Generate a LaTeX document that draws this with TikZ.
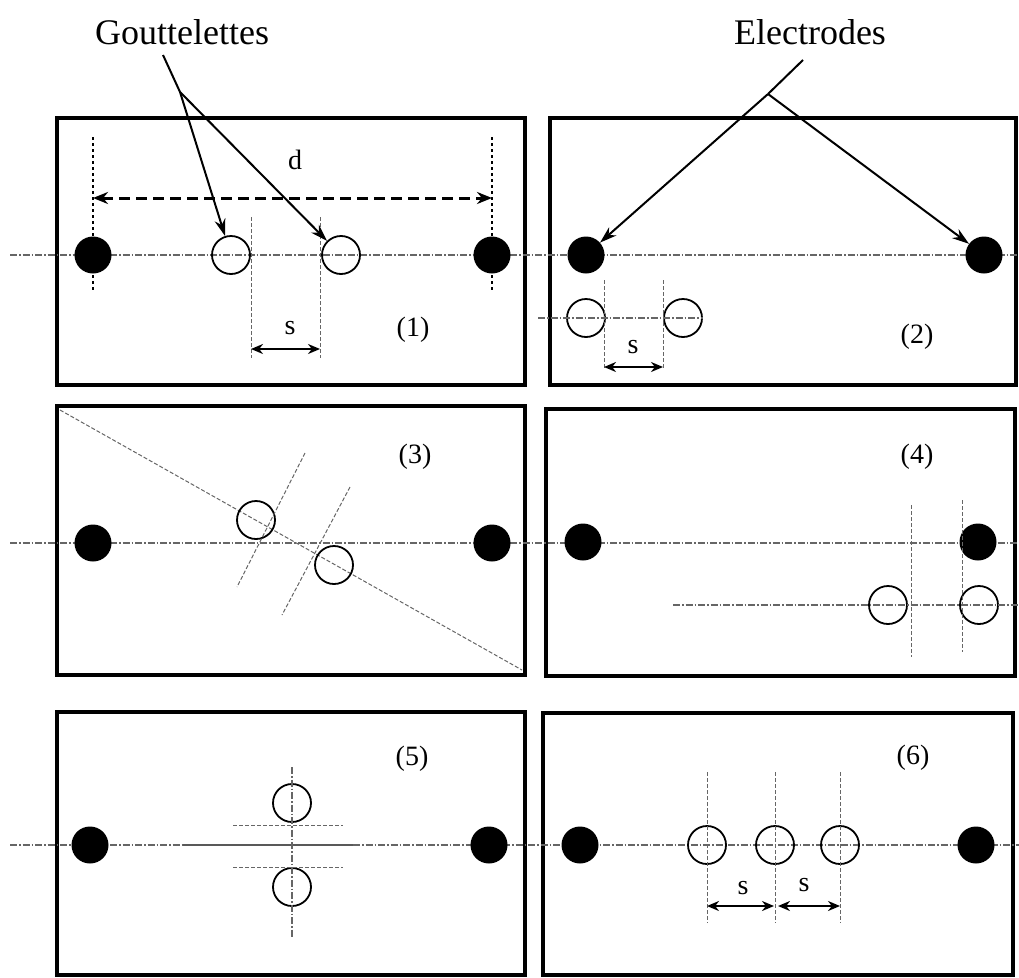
\documentclass[tikz,border=0pt]{standalone}
\usepackage{fontspec}
\setmainfont{Liberation Serif}
\usetikzlibrary{arrows.meta}

\begin{document}
\begin{tikzpicture}[x=1pt, y=-1pt,
    frame/.style={line width=3.2pt},
    axisline/.style={black!60, line width=1.1pt, dash pattern=on 7pt off 2pt on 1.5pt off 2pt},
    guide/.style={black!60, line width=1pt, dash pattern=on 4pt off 2pt},
    electrode/.style={circle, fill=black, minimum size=37pt, inner sep=0pt},
    drop/.style={circle, draw, line width=1.8pt, minimum size=38pt, inner sep=0pt},
    pointer/.style={line width=2pt, -{Stealth[length=17pt,width=11pt]}},
    gap/.style={line width=2.2pt, {Stealth[length=12pt,width=10pt]}-{Stealth[length=12pt,width=10pt]}},
    lbl/.style={font=\fontsize{28}{30}\selectfont, inner sep=0pt},
    title/.style={font=\fontsize{36}{40}\selectfont, inner sep=0pt}]
    \useasboundingbox (0,0) rectangle (1019,977);

    % The six frames
    \draw[frame] (57,118) rectangle (525,385);
    \draw[frame] (550,118) rectangle (1016,385);
    \draw[frame] (57,406) rectangle (525,675);
    \draw[frame] (546,409) rectangle (1015,676);
    \draw[frame] (57,712) rectangle (525,975);
    \draw[frame] (543,713) rectangle (1013,975);

    % Axis lines through the electrodes
    \draw[axisline] (10,255) -- (1019,255);
    \draw[axisline] (10,543) -- (1019,543);
    \draw[axisline] (10,845) -- (183,845);
    \draw[black!65, line width=1.1pt] (183,845) -- (353,845);
    \draw[axisline] (353,845) -- (1019,845);

    % Panel (1)
    \node[electrode] (e1a) at (93,255) {};
    \node[electrode] (e1b) at (492,255) {};
    \node[drop] (d1a) at (231,255) {};
    \node[drop] (d1b) at (341,255) {};
    \draw[dashed, line width=1.1pt] (93,137) -- (93,290);
    \draw[dashed, line width=1.1pt] (492,137) -- (492,290);
    \coordinate (dl) at (93,198);
    \coordinate (dr) at (492,198);
    \draw[line width=3pt, dash pattern=on 11pt off 6pt, {Stealth[length=15pt,width=12pt]}-{Stealth[length=15pt,width=12pt]}] (dl) -- (dr);
    \node[lbl] (dlbl) at (295,160) {d};
    \draw[guide] (251,217) -- (251,358);
    \draw[guide] (320,217) -- (320,358);
    \coordinate (s1l) at (251,349);
    \coordinate (s1r) at (320,349);
    \draw[gap] (s1l) -- (s1r);
    \node[lbl] (s1) at (290,328) {s};
    \node[lbl] (p1) at (413,330) {(1)};

    % Panel (2)
    \node[electrode] (e2a) at (586,255) {};
    \node[electrode] (e2b) at (984,255) {};
    \node[drop] (d2a) at (586,318) {};
    \node[drop] (d2b) at (683,318) {};
    \draw[axisline] (538,318) -- (703,318);
    \draw[guide] (604,280) -- (604,368);
    \draw[guide] (663,280) -- (663,368);
    \coordinate (s2l) at (604,367);
    \coordinate (s2r) at (663,367);
    \draw[gap] (s2l) -- (s2r);
    \node[lbl] (s2) at (633,347) {s};
    \node[lbl] (p2) at (917,337) {(2)};

    % Panel (3)
    \node[electrode] (e3a) at (93,543) {};
    \node[electrode] (e3b) at (492,543) {};
    \draw[guide] (60,410) -- (522,670);
    \node[drop] (d3a) at (256,520) {};
    \node[drop] (d3b) at (334,565) {};
    \draw[guide] (305,453) -- (237,587);
    \draw[guide] (350,487) -- (282,615);
    \node[lbl] (p3) at (415,457) {(3)};

    % Panel (4)
    \node[electrode] (e4a) at (583,542) {};
    \node[electrode] (e4b) at (978,542) {};
    \node[drop] (d4a) at (888,605) {};
    \node[drop] (d4b) at (979,605) {};
    \draw[axisline] (673,605) -- (1019,605);
    \draw[guide] (911,505) -- (911,657);
    \draw[guide] (962,500) -- (962,652);
    \node[lbl] (p4) at (917,457) {(4)};

    % Panel (5)
    \node[electrode] (e5a) at (90,845) {};
    \node[electrode] (e5b) at (489,845) {};
    \node[drop] (d5a) at (292,803) {};
    \node[drop] (d5b) at (292,887) {};
    \draw[axisline] (292,767) -- (292,937);
    \draw[guide] (233,825) -- (343,825);
    \draw[guide] (233,867) -- (343,867);
    \node[lbl] (p5) at (412,759) {(5)};

    % Panel (6)
    \node[electrode] (e6a) at (580,845) {};
    \node[electrode] (e6b) at (976,845) {};
    \foreach \n/\x in {a/707, b/775, c/840} {
        \node[drop] (d6\n) at (\x,845) {};
        \draw[guide] (\x,772) -- (\x,923);
    }
    \coordinate (s6a) at (707,906);
    \coordinate (s6b) at (774,906);
    \coordinate (s6c) at (778,906);
    \coordinate (s6d) at (840,906);
    \draw[gap] (s6a) -- (s6b);
    \draw[gap] (s6c) -- (s6d);
    \node[lbl] (s6l) at (743,888) {s};
    \node[lbl] (s6r) at (804,885) {s};
    \node[lbl] (p6) at (913,758) {(6)};

    % Callouts
    \node[title] (gout) at (182,32) {Gouttelettes};
    \coordinate (gstart) at (163,55);
    \coordinate (gsplit) at (180,92);
    \draw[line width=2pt] (gstart) -- (gsplit);
    \draw[pointer] (gsplit) -- (d1a);
    \draw[pointer] (gsplit) -- (d1b);

    \node[title] (elec) at (810,32) {Electrodes};
    \coordinate (estart) at (803,60);
    \coordinate (esplit) at (768,94);
    \draw[line width=2pt] (estart) -- (esplit);
    \draw[pointer] (esplit) -- (e2a);
    \draw[pointer] (esplit) -- (e2b);
\end{tikzpicture}
\end{document}
